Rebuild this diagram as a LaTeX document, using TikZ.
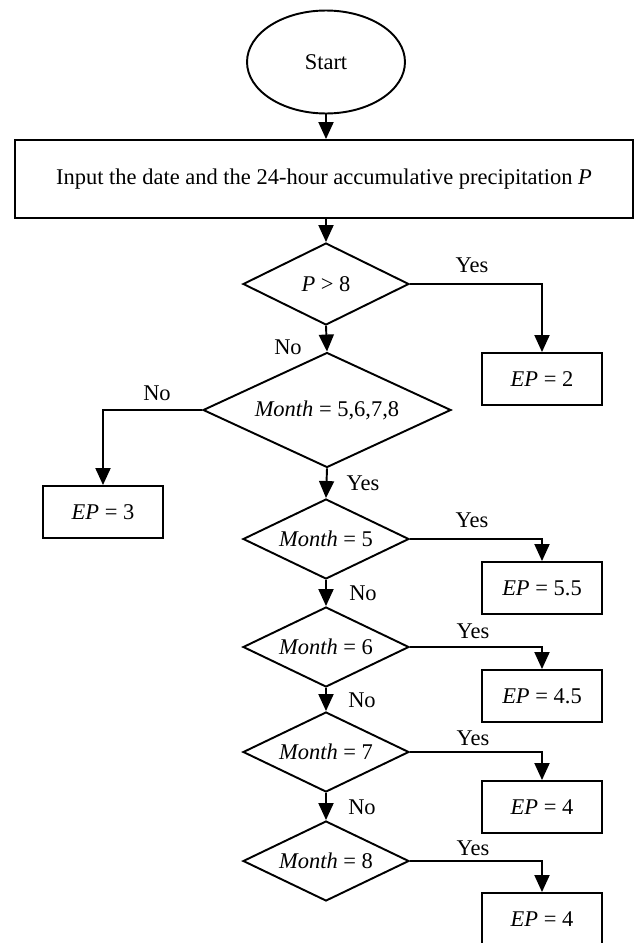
\documentclass[tikz,border=0pt]{standalone}
\usepackage{fontspec}
\setmainfont{Liberation Serif}
\usetikzlibrary{shapes.geometric,arrows.meta}
\tikzset{
  base/.style={draw, line width=1.1pt, inner sep=0pt, font=\fontsize{12.8pt}{15pt}\selectfont},
  startbox/.style={base, ellipse, minimum width=3.16cm, minimum height=2.06cm},
  procbox/.style={base, rectangle, minimum width=12.36cm, minimum height=1.56cm},
  epbox/.style={base, rectangle, minimum width=2.4cm, minimum height=1.04cm},
  decsmall/.style={base, diamond, aspect=2.07, minimum width=3.32cm, minimum height=1.6cm},
  decbig/.style={base, diamond, aspect=2.16, minimum width=4.96cm, minimum height=2.3cm},
  lbl/.style={inner sep=0pt, font=\fontsize{12.8pt}{15pt}\selectfont},
  flow/.style={line width=1.1pt, -{Triangle[width=0.3cm, length=0.34cm]}}
}
\begin{document}
\begin{tikzpicture}[x=0.02cm, y=-0.02cm]
\clip (0,0) rectangle (636,943);
\fill[white] (0,0) rectangle (636,943);

\node[startbox] (start) at (326,62) {Start};
\node[procbox] (input) at (324,179) {Input the date and the 24-hour accumulative precipitation \textit{P}};
\node[decsmall, minimum height=1.64cm] (p8) at (326,284) {\textit{P} > 8};
\node[epbox] (ep2) at (542,379) {\textit{EP} = 2};
\node[decbig] (mall) at (327,410) {\textit{Month} = 5,6,7,8};
\node[epbox] (ep3) at (103,512) {\textit{EP} = 3};
\node[decsmall] (m5) at (326,539) {\textit{Month} = 5};
\node[epbox] (ep55) at (542,588) {\textit{EP} = 5.5};
\node[decsmall] (m6) at (326,647) {\textit{Month} = 6};
\node[epbox] (ep45) at (542,696) {\textit{EP} = 4.5};
\node[decsmall] (m7) at (326,752) {\textit{Month} = 7};
\node[epbox] (ep4a) at (542,807) {\textit{EP} = 4};
\node[decsmall] (m8) at (326,861) {\textit{Month} = 8};
\node[epbox] (ep4b) at (542,919) {\textit{EP} = 4};

\draw[flow] (start.south) -- (start.south |- input.north);
\draw[flow] (p8 |- input.south) -- (p8.north);
\draw[flow] (p8.east) -| (ep2.north);
\draw[flow] (p8.south) -- (mall.north);
\draw[flow] (mall.west) -| (ep3.north);
\draw[flow] (mall.south) -- (m5.north);
\draw[flow] (m5.east) -| (ep55.north);
\draw[flow] (m5.south) -- (m6.north);
\draw[flow] (m6.east) -| (ep45.north);
\draw[flow] (m6.south) -- (m7.north);
\draw[flow] (m7.east) -| (ep4a.north);
\draw[flow] (m7.south) -- (m8.north);
\draw[flow] (m8.east) -| (ep4b.north);

\node[lbl] (y1) at (472,265) {Yes};
\node[lbl] (n1) at (288,347) {No};
\node[lbl] (n2) at (157,393) {No};
\node[lbl] (y2) at (363,483) {Yes};
\node[lbl] (y3) at (472,520) {Yes};
\node[lbl] (n3) at (363,593) {No};
\node[lbl] (y4) at (473,631) {Yes};
\node[lbl] (n4) at (362,700) {No};
\node[lbl] (y5) at (473,738) {Yes};
\node[lbl] (n5) at (362,807) {No};
\node[lbl] (y6) at (473,848) {Yes};
\end{tikzpicture}
\end{document}
